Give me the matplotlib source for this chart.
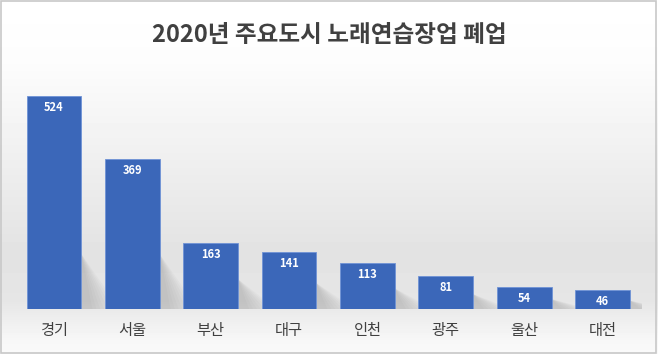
import numpy as np
import matplotlib
matplotlib.use("Agg")
import matplotlib.pyplot as plt
from matplotlib.patches import Rectangle, Polygon

plt.rcParams['font.family'] = ['Noto Sans CJK KR', 'DejaVu Sans']

# Data
cities = ["경기", "서울", "부산", "대구", "인천", "광주", "울산", "대전"]
closures = [524, 369, 163, 141, 113, 81, 54, 46]
title = "2020년 주요도시 노래연습장업 폐업"

fig = plt.figure(figsize=(6.58, 3.54), dpi=100)

# background gradient (white on top, light gray near the bottom)
bg = fig.add_axes([0, 0, 1, 1], zorder=0)
rows = np.arange(354)
shade = np.interp(rows, [0, 60, 250, 300, 340, 354], [1.0, 0.99, 0.89, 0.90, 0.97, 0.98])
bg.imshow(shade[:, None], cmap="gray", vmin=0, vmax=1, aspect="auto",
          extent=[0, 1, 0, 1], origin="upper")
bg.add_patch(Rectangle((0.002, 0.003), 0.995, 0.993, fill=False,
                       edgecolor="#c8c8c8", linewidth=1.2, transform=bg.transAxes))
bg.set_axis_off()

ax = fig.add_axes([0.0225, 0.127, 0.9527, 0.689], zorder=1)
ax.patch.set_alpha(0)
x = np.arange(len(cities))

# soft shadows behind the bars
for xi, v in zip(x, closures):
    for k in range(8):
        off = 0.04 + k * 0.05
        shadow = Polygon([(xi + 0.35, min(v, 300) * 0.45), (xi + 0.35 + off + 0.1, 0),
                          (xi + 0.35, 0)], closed=True,
                         facecolor="#707070", edgecolor="none", alpha=0.04, zorder=1)
        ax.add_patch(shadow)

ax.bar(x, closures, width=0.70, color="#3b67b9", edgecolor="#6f93d6",
       linewidth=0.6, zorder=2)

for xi, v in zip(x, closures):
    ax.text(xi, v - 12, str(v), ha="center", va="top", color="white",
            fontsize=8, fontweight="bold", zorder=3)

ax.set_xlim(-0.5, len(cities) - 0.5)
ax.set_ylim(0, 600)
ax.set_xticks(x)
ax.set_xticklabels(cities, fontsize=11, color="#404040")
ax.tick_params(axis="x", length=0, pad=9)
ax.set_yticks([])
for s in ax.spines.values():
    s.set_visible(False)

fig.text(0.5, 0.9, title, ha="center", va="center", fontsize=17,
         fontweight="bold", color="#404040")

fig.savefig("out.png", dpi=100)
